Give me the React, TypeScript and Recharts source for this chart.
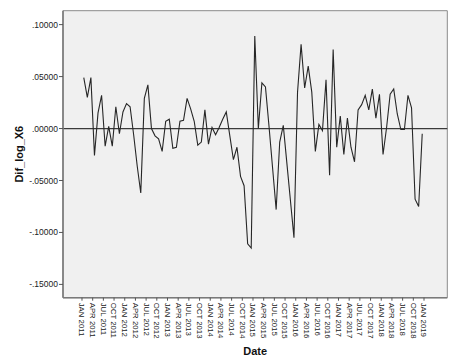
import React from "react";
import {
  LineChart,
  Line,
  XAxis,
  YAxis,
  CartesianGrid,
  ReferenceLine,
  ReferenceArea,
} from "recharts";

// Monthly series JAN 2011 .. DEC 2018
const monthNames = ["JAN", "FEB", "MAR", "APR", "MAY", "JUN", "JUL", "AUG", "SEP", "OCT", "NOV", "DEC"];
const years = [2011, 2012, 2013, 2014, 2015, 2016, 2017, 2018];

const difLogX6 = [
  0.049, 0.030, 0.049, -0.026, 0.015, 0.032, -0.017, 0.002, -0.017, 0.021,
  -0.005, 0.016, 0.024, 0.021, -0.006, -0.036, -0.062, 0.029, 0.042, 0.000,
  -0.007, -0.010, -0.022, 0.007, 0.009, -0.019, -0.018, 0.007, 0.008, 0.029,
  0.019, 0.007, -0.016, -0.013, 0.018, -0.015, 0.001, -0.006, 0.001, 0.009,
  0.016, -0.007, -0.030, -0.018, -0.046, -0.055, -0.111, -0.115, 0.089, 0.000,
  0.044, 0.040, 0.002, -0.038, -0.078, -0.013, 0.003, -0.033, -0.069, -0.105,
  0.035, 0.081, 0.039, 0.060, 0.035, -0.022, 0.004, -0.002, 0.047, -0.045,
  0.076, -0.018, 0.012, -0.025, 0.010, -0.018, -0.032, 0.018, 0.023, 0.032,
  0.018, 0.038, 0.010, 0.033, -0.025, 0.001, 0.033, 0.038, 0.014, -0.001,
  -0.001, 0.032, 0.020, -0.068, -0.075, -0.005,
];

const xTickLabels = [
  "JAN 2011", "APR 2011", "JUL 2011", "OCT 2011",
  "JAN 2012", "APR 2012", "JUL 2012", "OCT 2012",
  "JAN 2013", "APR 2013", "JUL 2013", "OCT 2013",
  "JAN 2014", "APR 2014", "JUL 2014", "OCT 2014",
  "JAN 2015", "APR 2015", "JUL 2015", "OCT 2015",
  "JAN 2016", "APR 2016", "JUL 2016", "OCT 2016",
  "JAN 2017", "APR 2017", "JUL 2017", "OCT 2017",
  "JAN 2018", "APR 2018", "JUL 2018", "OCT 2018",
  "JAN 2019",
];

const yTicks = [-0.15, -0.1, -0.05, 0, 0.05, 0.1];

// month boundaries: each tick sits at the start of its month (point = mid-month)
const xTickPositions = xTickLabels.map((_, k) => 3 * k - 0.5);

const dates: string[] = [];
years.forEach((y) => monthNames.forEach((m) => dates.push(`${m} ${y}`)));

const data = difLogX6.map((v, i) => ({ t: i, date: dates[i], value: v }));

const X_MIN = -5.83;
const X_MAX = 102.04;
const Y_MIN = -0.1628;
const Y_MAX = 0.1134;

const FONT = "'Liberation Sans', Arial, Helvetica, sans-serif";

const fmtY = (v: number) => {
  const s = Math.abs(v).toFixed(5).replace(/^0/, "");
  return (v < -1e-9 ? "-" : "") + s;
};

const XTick = (props: any) => {
  const { x, y, payload } = props;
  const k = Math.round((payload.value + 0.5) / 3);
  return (
    <text
      x={x}
      y={y}
      transform={`rotate(90, ${x}, ${y})`}
      textAnchor="start"
      dy="0.33em"
      fontSize={7.8}
      fill="#222"
      fontFamily={FONT}
    >
      {xTickLabels[k]}
    </text>
  );
};

const YLabel = (props: any) => {
  const vb = props.viewBox || { x: 0, y: 10.7, width: 63, height: 287 };
  const cx = vb.x + 23;
  const cy = vb.y + vb.height / 2;
  return (
    <text
      x={cx}
      y={cy}
      transform={`rotate(-90, ${cx}, ${cy})`}
      textAnchor="middle"
      fontSize={11}
      fontWeight="bold"
      fill="#111"
      fontFamily={FONT}
    >
      Dif_log_X6
    </text>
  );
};

export default function App() {
  return (
    <div style={{ position: "absolute", left: 0, top: 0, width: 463, height: 360, background: "#fff" }}>
      <LineChart
        width={463}
        height={360}
        data={data}
        margin={{ top: 10.7, right: 15.7, bottom: 0, left: 0 }}
      >
        <CartesianGrid fill="#f0f0f0" horizontal={false} vertical={false} />
        <ReferenceArea
          x1={X_MIN}
          x2={X_MAX}
          y1={Y_MIN}
          y2={Y_MAX}
          fill="none"
          fillOpacity={0}
          stroke="#8a8a8a"
          strokeWidth={1}
          ifOverflow="visible"
        />
        <XAxis
          dataKey="t"
          type="number"
          domain={[X_MIN, X_MAX]}
          ticks={xTickPositions}
          interval={0}
          height={62.3}
          tickSize={3}
          tickMargin={2}
          axisLine={{ stroke: "#7a7a7a", strokeWidth: 1.6 }}
          tickLine={{ stroke: "#555" }}
          tick={<XTick />}
          allowDataOverflow
          label={{
            value: "Date",
            position: "insideBottom",
            offset: 5,
            fontSize: 11,
            fontWeight: "bold",
            fill: "#111",
            fontFamily: FONT,
          }}
        />
        <YAxis
          type="number"
          domain={[Y_MIN, Y_MAX]}
          ticks={yTicks}
          interval={0}
          width={63}
          tickSize={4}
          tickMargin={1}
          tickFormatter={fmtY}
          axisLine={{ stroke: "#7a7a7a", strokeWidth: 1.6 }}
          tickLine={{ stroke: "#555" }}
          tick={{ fontSize: 8.5, fill: "#222", fontFamily: FONT }}
          allowDataOverflow
          label={<YLabel />}
        />
        <ReferenceLine y={0} stroke="#3a3a3a" strokeWidth={1.2} />
        <Line
          type="linear"
          dataKey="value"
          stroke="#262626"
          strokeWidth={1.1}
          dot={false}
          activeDot={false}
          isAnimationActive={false}
        />
      </LineChart>
    </div>
  );
}
